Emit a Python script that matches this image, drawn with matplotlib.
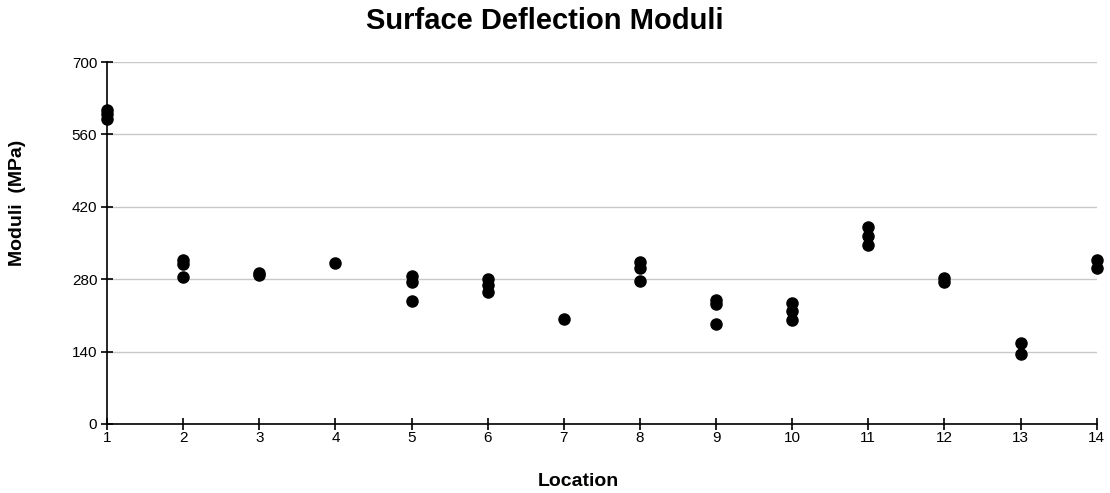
import matplotlib
matplotlib.use('Agg')
import matplotlib.pyplot as plt

plt.rcParams['font.family'] = ['Liberation Sans', 'DejaVu Sans']

# moduli readings (MPa) per location
locations = [1, 1, 1,
             2, 2, 2,
             3, 3,
             4,
             5, 5, 5,
             6, 6, 6,
             7,
             8, 8, 8,
             9, 9, 9,
             10, 10, 10,
             11, 11, 11,
             12, 12,
             13, 13,
             14, 14]
moduli = [608, 600, 590,
          318, 310, 284,
          292, 288,
          312,
          287, 274, 238,
          281, 268, 255,
          204,
          313, 301, 276,
          240, 232, 193,
          234, 218, 202,
          382, 363, 346,
          283, 275,
          156, 136,
          318, 301]
xticks = list(range(1, 15))
yticks = [0, 140, 280, 420, 560, 700]

fig = plt.figure(figsize=(11.1, 4.93), dpi=100)
ax = fig.add_axes([0.0964, 0.140, 0.8916, 0.734])

ax.scatter(locations, moduli, s=64, color='black', zorder=3, clip_on=False)

ax.set_xlim(1, 14)
ax.set_ylim(0, 700)
ax.set_xticks(xticks)
ax.set_yticks(yticks)
ax.yaxis.grid(True, color='#c8c8c8', linewidth=1)
ax.set_axisbelow(True)
for s in ['top', 'right']:
    ax.spines[s].set_visible(False)
for s in ['left', 'bottom']:
    ax.spines[s].set_linewidth(1.2)
ax.tick_params(direction='inout', length=8, width=1.2, labelsize=11)
ax.tick_params(axis='y', pad=3)
ax.tick_params(axis='x', pad=1)

fig.suptitle('Surface Deflection Moduli', x=0.491, y=0.985, fontsize=21, fontweight='bold')
ax.set_xlabel('Location', fontsize=14, fontweight='bold')
ax.xaxis.set_label_coords(0.476, -0.136)
ax.set_ylabel('Moduli  (MPa)', fontsize=14, fontweight='bold')
ax.yaxis.set_label_coords(-0.082, 0.61)

fig.savefig('out.png', dpi=100)
